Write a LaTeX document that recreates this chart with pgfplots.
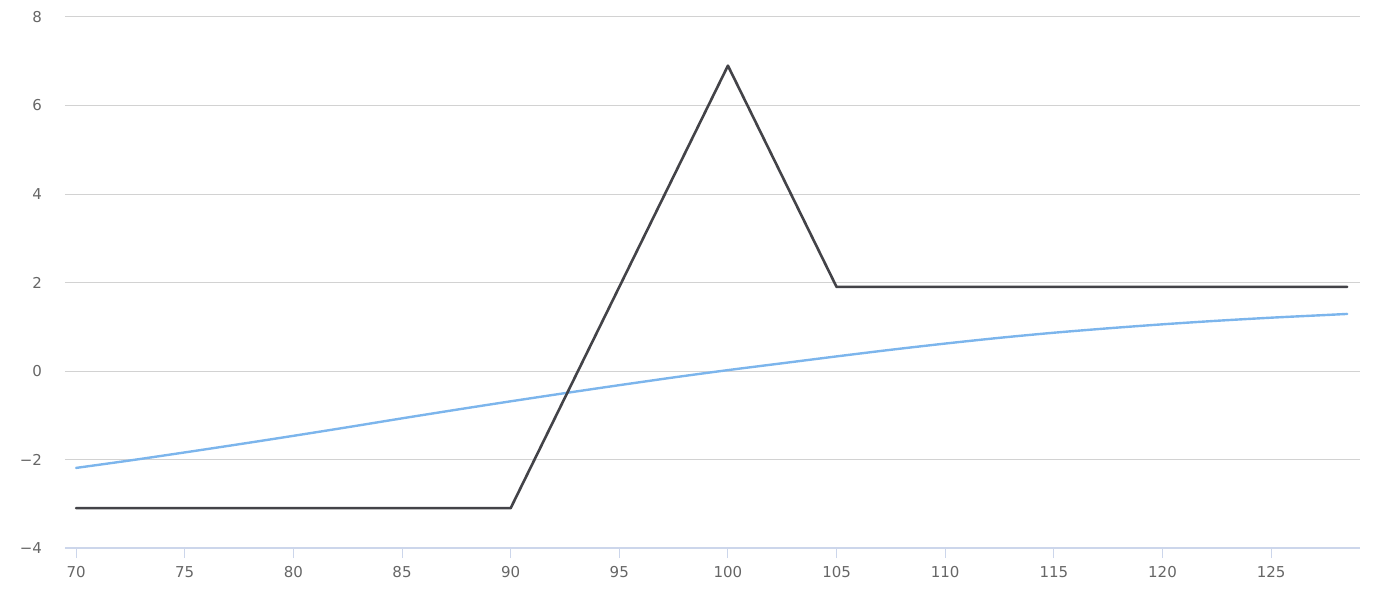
\documentclass[border=0pt]{standalone}
\usepackage{pgfplots}
\pgfplotsset{compat=1.18}
\usepackage{fontspec}
\setmainfont{DejaVu Sans}
\definecolor{hcblue}{HTML}{7CB5EC}
\definecolor{hcdark}{HTML}{434348}
\definecolor{gridc}{HTML}{D2D2D2}
\definecolor{axisc}{HTML}{CCD6EB}
\definecolor{labc}{HTML}{666666}
\begin{document}
\begin{tikzpicture}
\begin{axis}[
  scale only axis,
  width=647.5pt, height=265.5pt,
  xmin=69.49, xmax=129.09,
  ymin=-4, ymax=8,
  axis x line*=bottom,
  axis y line*=left,
  x axis line style={draw=axisc, line width=0.6pt, -},
  y axis line style={draw=none},
  ytick={-4,-2,0,2,4,6,8},
  yticklabels={−4,−2,0,2,4,6,8},
  xtick={70,75,...,125},
  ymajorgrids,
  major grid style={draw=gridc, line width=0.5pt},
  xtick style={draw=axisc, line width=0.5pt},
  ytick style={draw=none},
  tick align=outside,
  major tick length=5pt,
  /pgf/number format/assume math mode=true,
  tick label style={font=\fontsize{7.5}{9}\selectfont, text=labc},
  xticklabel style={yshift=-0.8pt},
  yticklabel style={xshift=-3pt},
  clip=false,
]
\addplot[hcblue, line width=1.2pt, smooth, line cap=round] coordinates {
(70,-2.19) (72.5,-2.02) (75,-1.84) (77.5,-1.655) (80,-1.465) (82.5,-1.27)
(85,-1.07) (87.5,-0.875) (90,-0.685) (92.5,-0.50) (95,-0.32) (97.5,-0.145)
(100,0.02) (102.5,0.175) (105,0.33) (107.5,0.48) (110,0.62) (112.5,0.75)
(115,0.865) (117.5,0.965) (120,1.055) (122.5,1.135) (125,1.205) (127.5,1.265) (128.5,1.29)
};
\addplot[hcdark, line width=1.3pt, line join=round, line cap=round] coordinates {
(70,-3.1) (90,-3.1) (100,6.9) (105,1.9) (128.5,1.9)
};
\end{axis}
\pgfresetboundingbox
\path ([shift={(-32.5pt,-22pt)}]current axis.south west) rectangle ([shift={(14pt,8.5pt)}]current axis.north east);
\end{tikzpicture}
\end{document}
